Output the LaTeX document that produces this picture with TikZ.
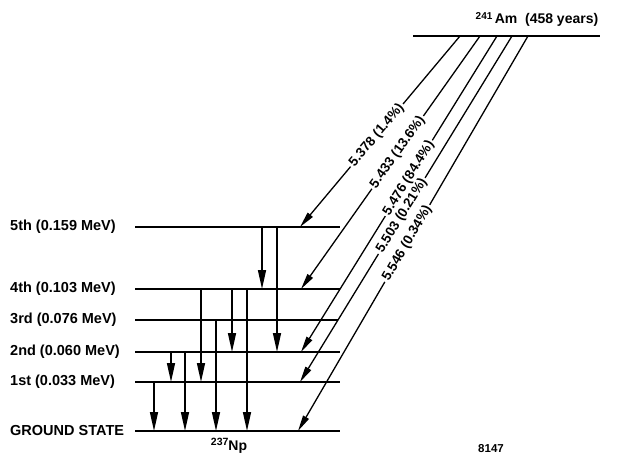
\documentclass[tikz,border=0pt]{standalone}
\usepackage{fontspec}
\setmainfont{Liberation Sans}
\usetikzlibrary{arrows.meta}
\begin{document}
\begin{tikzpicture}[x=1pt,y=-1pt,
 level/.style={line width=2.1pt},
 gam/.style={line width=1.5pt,-{Triangle[length=19pt,width=8pt]}},
 aline/.style={line width=1.3pt},
 alp/.style={line width=1.3pt,-{Triangle[length=16pt,width=6.5pt]}},
 lbl/.style={font=\fontsize{14.5}{16}\selectfont\bfseries, anchor=west, inner sep=0pt},
 alab/.style={font=\fontsize{13.5}{15}\selectfont\bfseries, sloped, inner sep=2pt},
 sup/.style={font=\fontsize{14}{16}\selectfont\bfseries, inner sep=0pt},
]
\useasboundingbox (0,0) rectangle (628,455);
% levels of 237Np
\coordinate (L5a) at (135,227); \coordinate (L5b) at (340,227);
\coordinate (L4a) at (135,289); \coordinate (L4b) at (340,289);
\coordinate (L3a) at (135,320); \coordinate (L3b) at (338,320);
\coordinate (L2a) at (135,352); \coordinate (L2b) at (340,352);
\coordinate (L1a) at (135,382); \coordinate (L1b) at (340,382);
\coordinate (L0a) at (135,431); \coordinate (L0b) at (340,431);
\foreach \l in {5,4,3,2,1,0} { \draw[level] (L\l a) -- (L\l b); }
\node[lbl] (t5) at (10,227) {5th (0.159 MeV)};
\node[lbl] (t4) at (10,289) {4th (0.103 MeV)};
\node[lbl] (t3) at (10,320) {3rd (0.076 MeV)};
\node[lbl] (t2) at (10,352) {2nd (0.060 MeV)};
\node[lbl] (t1) at (10,382) {1st (0.033 MeV)};
\node[lbl] (t0) at (10,431) {GROUND STATE};
% 241Am level
\coordinate (Ta) at (413,36); \coordinate (Tb) at (600,36);
\draw[level] (Ta) -- (Tb);
\node[sup] (am) at (537,19) {\raisebox{4pt}{\fontsize{10}{10}\selectfont 241}\,Am\ \ (458 years)};
\node[sup] (np) at (229,446) {\raisebox{5pt}{\fontsize{10.5}{10}\selectfont 237}Np};
\node[font=\fontsize{11.5}{12}\selectfont\bfseries, inner sep=0pt] (num) at (491,449) {8147};
% gamma transitions
\draw[gam] (262,0 |- L5a) -- (262,0 |- L4a);
\draw[gam] (277,0 |- L5a) -- (277,0 |- L2a);
\draw[gam] (201,0 |- L4a) -- (201,0 |- L1a);
\draw[gam] (232,0 |- L4a) -- (232,0 |- L2a);
\draw[gam] (247,0 |- L4a) -- (247,0 |- L0a);
\draw[gam] (216,0 |- L3a) -- (216,0 |- L0a);
\draw[gam] (171,0 |- L2a) -- (171,0 |- L1a);
\draw[gam] (185,0 |- L2a) -- (185,0 |- L0a);
\draw[gam] (154,0 |- L1a) -- (154,0 |- L0a);
% alpha transitions
\coordinate (s1) at (460,36); \coordinate (e1) at (300,227);
\coordinate (s2) at (480,36); \coordinate (e2) at (301,289);
\coordinate (s3) at (497,36); \coordinate (e3) at (301,352);
\coordinate (s4) at (512,36); \coordinate (e4) at (300,382);
\coordinate (s5) at (528,36); \coordinate (e5) at (298,431);
\path (s1) -- node[alab, pos=0.52] (a1) {5.378 (1.4\%)} (e1);
\path (s2) -- node[alab, pos=0.46] (a2) {5.433 (13.6\%)} (e2);
\path (s3) -- node[alab, pos=0.45] (a3) {5.476 (84.4\%)} (e3);
\path (s4) -- node[alab, pos=0.52] (a4) {5.503 (0.21\%)} (e4);
\path (s5) -- node[alab, pos=0.525] (a5) {5.546 (0.34\%)} (e5);
\foreach \i in {1,...,5} {
  \draw[aline] (s\i) -- (a\i.east);
  \draw[alp] (a\i.west) -- (e\i);
}
\end{tikzpicture}
\end{document}
